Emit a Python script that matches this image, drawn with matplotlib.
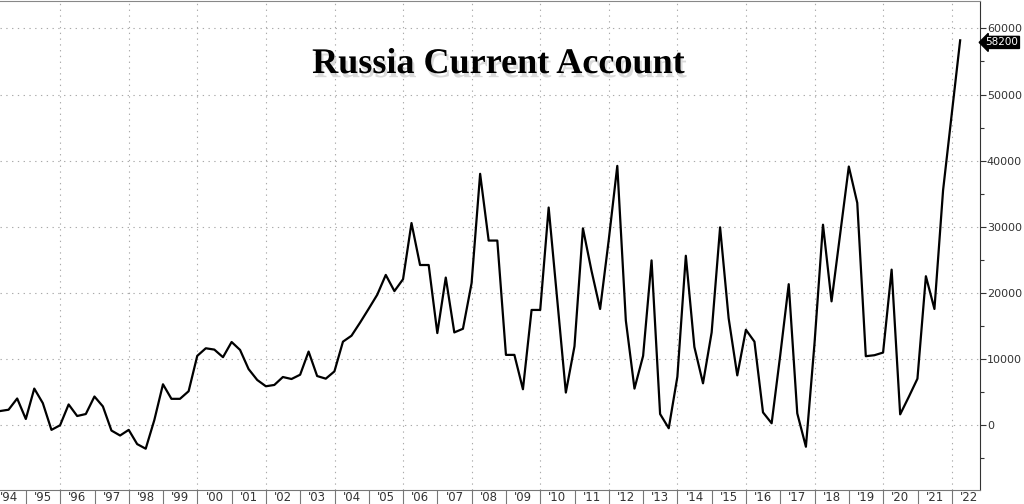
import pandas as pd
import matplotlib
matplotlib.use("Agg")
import matplotlib.pyplot as plt
import matplotlib.dates as mdates
import matplotlib.patheffects as pe
from matplotlib.ticker import MultipleLocator, NullFormatter

# quarterly current account, USD mn, 1994Q1 .. 2022Q1
start_quarter = "1994Q1"
end_quarter = "2022Q1"
current_account = [
    2100, 2300, 4000, 900, 5500, 3300, -750, -50,
    3100, 1350, 1650, 4300, 2800, -850, -1600, -750,
    -2900, -3600, 750, 6150, 3950, 3950, 5100, 10450,
    11600, 11400, 10250, 12550, 11350, 8450, 6800, 5850,
    6050, 7250, 6950, 7600, 11100, 7400, 7000, 8100,
    12600, 13500, 15500, 17600, 19700, 22700, 20250, 22050,
    30550, 24200, 24200, 13900, 22300, 14000, 14550, 21450,
    38000, 27900, 27900, 10600, 10600, 5400, 17400, 17400,
    32900, 19000, 4900, 11900, 29750, 23350, 17550, 28000,
    39200, 15800, 5500, 10450, 24900, 1650, -500, 7300,
    25600, 11800, 6300, 14000, 29900, 16150, 7500, 14400,
    12600, 1900, 250, 10600, 21300, 1750, -3300, 12400,
    30300, 18700, 28900, 39100, 33600, 10400, 10550, 10950,
    23500, 1600, 4250, 7000, 22500, 17550, 35500, 47000,
    58200,
]
title = "Russia Current Account"
last_label = "58200"

quarters = pd.period_range(start_quarter, end_quarter, freq="Q")
dates = quarters.end_time.normalize()
series = pd.Series(current_account, index=dates)

fig = plt.figure(figsize=(10.24, 5.04), dpi=100)
ax = fig.add_axes([0.0, 0.028, 0.957, 0.970])

ax.plot(series.index, series.values, color="black", linewidth=1.6)

ax.set_xlim(pd.Timestamp("1994-03-31"), pd.Timestamp("2022-10-28"))
ax.set_ylim(-9830, 64150)

# y axis on the right
ax.yaxis.tick_right()
ax.yaxis.set_major_locator(MultipleLocator(10000))
ax.yaxis.set_minor_locator(MultipleLocator(5000))
ax.yaxis.set_major_formatter(matplotlib.ticker.FuncFormatter(lambda v, p: f"{v:.0f}"))
ax.tick_params(axis="y", which="major", direction="out", length=4, width=0.8,
               labelsize=8, colors="#333333", pad=1)
ax.tick_params(axis="y", which="minor", direction="out", length=3, width=0.8,
               colors="#333333")
ax.yaxis.grid(True, which="major", linestyle=(0, (1.2, 4)), color="#aaaaaa", linewidth=0.8)

# x axis: separators at year starts, labels mid-year
ax.xaxis.set_major_locator(mdates.YearLocator(1))
ax.xaxis.set_major_formatter(NullFormatter())
ax.xaxis.set_minor_locator(mdates.YearLocator(1, month=7, day=2))
ax.xaxis.set_minor_formatter(mdates.DateFormatter("'%y"))
ax.tick_params(axis="x", which="major", direction="out", length=10, width=0.8,
               colors="#777777")
ax.tick_params(axis="x", which="minor", length=0, labelsize=8.5,
               labelcolor="#333333", pad=1)

for year in range(1996, 2023, 2):
    ax.axvline(pd.Timestamp(f"{year}-01-01"), linestyle=(0, (1.2, 4)),
               color="#aaaaaa", linewidth=0.8, zorder=0)

ax.spines["left"].set_visible(False)
ax.spines["top"].set_color("#888888")
ax.spines["bottom"].set_color("#777777")
ax.spines["right"].set_color("#333333")

# last value tag
ax.annotate(last_label, xy=(1.0, series.iloc[-1]), xycoords=("axes fraction", "data"),
            xytext=(4, -1.5), textcoords="offset points", ha="left", va="center",
            fontsize=7.5, color="white",
            bbox=dict(boxstyle="larrow,pad=0.1", fc="black", ec="black"),
            annotation_clip=False)

fig.text(0.487, 0.872, title, ha="center", va="center", fontsize=26,
         fontweight="bold", family="Liberation Serif", color="black",
         path_effects=[pe.SimplePatchShadow(offset=(1.5, -3), shadow_rgbFace="#b0b0b0",
                                            alpha=0.45),
                       pe.Normal()])

fig.savefig("out.png", dpi=100)
